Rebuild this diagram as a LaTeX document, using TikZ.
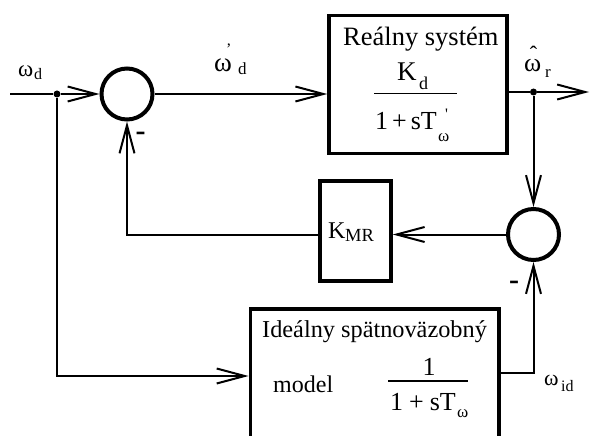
\documentclass[tikz,border=0pt]{standalone}
\usepackage{fontspec}
\setmainfont{Liberation Serif}
\usetikzlibrary{arrows.meta}
\newcommand{\fsz}[1]{\fontsize{#1}{#1}\selectfont}
\tikzset{
  conn/.style={line width=2pt},
  arr/.style={conn,-{Straight Barb[length=28pt,width=15pt,line width=2pt]}},
  blk/.style={draw,line width=3.5pt,inner sep=0pt},
  sum/.style={draw,circle,line width=4pt,minimum size=51pt,inner sep=0pt},
  dot/.style={circle,fill,inner sep=0pt,minimum size=7pt},
  lbl/.style={inner sep=0pt,anchor=base west},
  lblc/.style={inner sep=0pt,anchor=base},
  bar/.style={line width=1.5pt},
}
\begin{document}
\begin{tikzpicture}[x=1pt,y=-1pt]
\useasboundingbox (0,0) rectangle (590,436);
\clip (0,0) rectangle (590,436);
% blocks
\node[blk,minimum width=178pt,minimum height=138pt] (BR) at (418,84.3) {};
\node[blk,minimum width=71pt,minimum height=100pt] (KMR) at (355.5,231) {};
\node[blk,minimum width=248.7pt,minimum height=161pt] (BI) at (374.65,389.5) {};
\node[sum] (S1) at (127,94) {};
\node[sum] (S2) at (533.5,234.5) {};
\node[dot] (J1) at (57,94) {};
\node[dot] (J2) at (533.5,92) {};
\coordinate (in) at (10,94);
\coordinate (out) at (589,92);
\path (BI.west) ++(0,-13.5) coordinate (iI);
\path (BI.east) ++(0,-16.2) coordinate (oI);
% connectors
\draw[conn] (in) -- (J1);
\draw[arr] (J1) -- (S1.west);
\draw[arr] (S1.east) -- (S1.east -| BR.west);
\draw[conn] (BR.east |- J2) -- (J2);
\draw[arr] (J2) -- (out);
\draw[arr] (J2) -- (S2.north);
\draw[arr] (S2.west) -- (S2.west -| KMR.east);
\draw[arr] (KMR.west |- S2.west) -| (S1.south);
\draw[arr] (J1) |- (iI);
\draw[arr] (oI) -| (S2.south);
% signal labels
\node[lbl] (wd) at (18,77) {\fsz{23}ω};
\node[lbl] (wdS) at (34,79.5) {\fsz{16}d};
\node[lbl] (wdp) at (214,72) {\fsz{27}ω};
\node[lbl] (wdpP) at (226,55) {\fsz{16}’};
\node[lbl] (wdpS) at (238,75) {\fsz{17}d};
\node[lbl] (wr) at (524,72) {\fsz{26}ω};
\node[lblc] (wrH) at (533.5,62) {\fsz{22}ˆ};
\node[lbl] (wrS) at (545,78) {\fsz{17}r};
\node[lbl] (wid) at (544,385) {\fsz{22}ω};
\node[lbl] (widS) at (561,391) {\fsz{16}id};
\node[inner sep=0pt] (m1) at (140.5,136) {\fsz{30}\bfseries -};
\node[inner sep=0pt] (m2) at (514,285) {\fsz{30}\bfseries -};
% real system
\node[lbl] (tR) at (343,46) {\fsz{26.5}Reálny systém};
\node[lbl] (nK) at (397,81) {\fsz{27}K};
\node[lbl] (nKs) at (419,90) {\fsz{18}d};
\draw[bar] (374,93.5) -- (457,93.5);
\node[lbl] (dR) at (375,130) {\fsz{26}1\kern4pt+\kern4pt sT};
\node[lbl] (dRp) at (445,120) {\fsz{16}\textquotesingle};
\node[lbl] (dRs) at (438,142) {\fsz{17}ω};
% KMR
\node[lbl] (tK) at (328,238) {\fsz{24}K};
\node[lbl] (tKs) at (345,241) {\fsz{18.5}MR};
% ideal model
\node[lbl] (tI) at (262,337) {\fsz{24.3}Ideálny spätnoväzobný};
\node[lbl] (tM) at (273,392) {\fsz{24}model};
\node[lblc] (nI) at (429,375) {\fsz{26}1};
\draw[bar] (388,381) -- (468,381);
\node[lbl] (dI) at (390,410) {\fsz{26}1\kern6pt+\kern6pt sT};
\node[lbl] (dIs) at (457,417) {\fsz{17}ω};
\end{tikzpicture}
\end{document}
